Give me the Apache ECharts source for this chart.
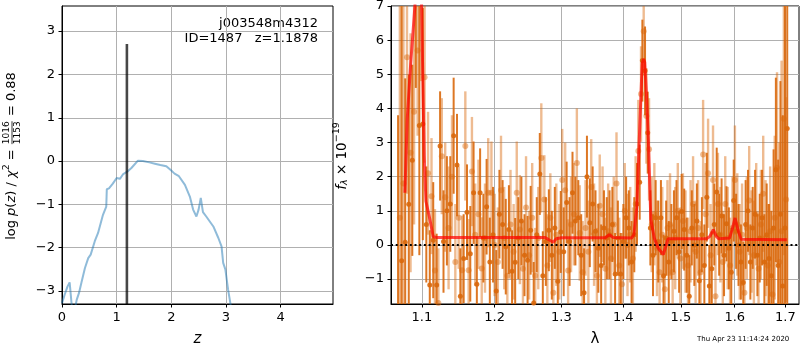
<!DOCTYPE html>
<html><head><meta charset="utf-8">
<script src="https://cdn.jsdelivr.net/npm/echarts@6/dist/echarts.min.js"></script>
<style>html,body{margin:0;padding:0;background:#fff}#c{width:800px;height:350px}</style>
</head><body><div id="c"></div>
<script>
// ---- Left panel: redshift probability ----
const zGrid = [0, 0.05, 0.10, 0.14, 0.16, 0.19, 0.23, 0.27, 0.31, 0.355, 0.42, 0.48, 0.525, 0.60, 0.66, 0.75, 0.81, 0.82, 0.86, 0.93, 1.00, 1.06, 1.12, 1.20, 1.27, 1.39, 1.48, 1.60, 1.70, 1.80, 1.91, 2.00, 2.06, 2.14, 2.25, 2.34, 2.40, 2.46, 2.50, 2.54, 2.58, 2.64, 2.77, 2.86, 2.92, 2.95, 2.99, 3.04, 3.08, 3.12];
const logPz = [-3.28, -3.08, -2.90, -2.80, -2.82, -3.50, -3.45, -3.20, -3.05, -2.81, -2.47, -2.24, -2.16, -1.85, -1.66, -1.24, -1.05, -0.65, -0.63, -0.52, -0.39, -0.41, -0.30, -0.24, -0.16, 0.01, 0.00, -0.03, -0.06, -0.09, -0.12, -0.22, -0.29, -0.35, -0.55, -0.82, -1.12, -1.28, -1.12, -0.85, -1.18, -1.28, -1.51, -1.77, -1.97, -2.35, -2.50, -2.97, -3.27, -3.60];
const zBest = 1.1878;
const zBestTop = 2.7;
const zRange = [0, 4.96];
const zTicks = [0, 1, 2, 3, 4];
const pzRange = [-3.3, 3.58];
const pzTicks = [-3, -2, -1, 0, 1, 2, 3];

// ---- Right panel: 1D spectrum ----
const lamRange = [1.06, 1.728];
const fluxRange = [-1.73, 7];
const lamTicks = [1.1, 1.2, 1.3, 1.4, 1.5, 1.6, 1.7];
const fluxTicks = [-1, 0, 1, 2, 3, 4, 5, 6, 7];
// [wavelength, flux, error]  (dark points)
const specA = [
[1.0690,-2.10,5.90],[1.0736,-0.46,8.00],[1.0782,0.08,4.80],[1.0828,1.19,3.80],[1.0874,2.48,2.80],[1.0920,7.60,3.00],[1.0966,3.50,3.80],[1.1012,3.54,3.40],
[1.1058,0.60,1.70],[1.1104,-1.17,1.60],[1.1150,0.14,1.70],[1.1196,-1.17,1.50],[1.1242,2.90,1.60],[1.1288,0.10,1.50],[1.1334,1.00,1.60],[1.1380,1.20,1.40],
[1.1426,3.20,1.70],[1.1472,2.34,1.50],[1.1518,-1.50,1.40],[1.1564,-0.40,1.30],[1.1610,0.96,1.40],[1.1656,-0.26,1.40],[1.1702,1.53,1.50],[1.1748,-1.15,1.40],
[1.1794,1.53,1.30],[1.1840,0.20,1.30],[1.1886,1.12,1.40],[1.1932,-0.50,1.30],[1.1978,0.30,1.40],[1.2024,-1.35,1.20],[1.2070,0.90,1.30],[1.2116,0.60,1.30],
[1.2162,-0.05,1.40],[1.2208,0.45,1.30],[1.2254,-0.77,1.20],[1.2300,-0.51,1.30],[1.2346,0.20,1.20],[1.2392,0.70,1.30],[1.2438,-0.30,1.20],[1.2484,-0.45,1.30],
[1.2530,0.43,1.30],[1.2576,-1.70,1.20],[1.2622,0.30,1.10],[1.2668,2.08,1.20],[1.2714,-0.90,1.30],[1.2760,0.10,1.30],[1.2806,0.43,1.20],[1.2852,-0.30,1.30],
[1.2898,0.50,1.20],[1.2944,-1.06,1.30],[1.2990,0.38,1.20],[1.3036,-0.20,1.30],[1.3082,1.24,1.20],[1.3128,0.10,1.30],[1.3174,1.53,1.20],[1.3220,0.70,1.30],
[1.3266,0.80,1.10],[1.3312,-0.30,1.20],[1.3358,-1.40,1.30],[1.3404,2.00,1.20],[1.3450,0.65,1.30],[1.3496,1.20,1.10],[1.3542,0.40,1.20],[1.3588,-0.10,1.30],
[1.3634,-0.60,1.20],[1.3680,0.50,1.10],[1.3726,0.20,1.20],[1.3772,0.30,1.30],[1.3818,0.60,1.10],[1.3864,-0.85,1.20],[1.3910,0.20,1.10],[1.3956,-0.85,1.20],
[1.4002,0.10,1.10],[1.4048,0.80,1.20],[1.4094,0.50,1.10],[1.4140,-0.50,1.20],[1.4186,0.30,1.10],[1.4232,1.20,1.20],[1.4278,1.84,1.10],[1.4324,5.40,1.20],
[1.4370,5.10,1.30],[1.4416,3.29,1.20],[1.4462,0.50,1.10],[1.4508,-0.30,1.20],[1.4554,0.80,1.10],[1.4600,0.10,1.20],[1.4646,0.80,1.10],[1.4692,-0.90,1.20],
[1.4738,0.20,1.10],[1.4784,-0.50,1.20],[1.4830,0.10,1.10],[1.4876,0.40,1.20],[1.4922,0.80,1.10],[1.4968,-0.20,1.20],[1.5014,0.98,1.10],[1.5060,0.45,1.20],
[1.5106,-0.30,1.10],[1.5152,-1.50,1.20],[1.5198,0.50,1.10],[1.5244,0.00,1.20],[1.5290,0.70,1.10],[1.5336,-1.05,1.20],[1.5382,0.30,1.10],[1.5428,-0.60,1.20],
[1.5474,1.40,1.30],[1.5520,-1.20,1.20],[1.5566,-0.70,1.10],[1.5612,0.60,1.20],[1.5658,1.55,1.30],[1.5704,0.30,1.20],[1.5750,0.85,1.10],[1.5796,-0.30,1.20],
[1.5842,0.62,1.10],[1.5888,-0.10,1.20],[1.5934,-0.80,1.30],[1.5980,1.30,1.20],[1.6026,0.40,1.10],[1.6072,0.00,1.20],[1.6118,-0.50,1.10],[1.6164,-1.10,1.20],
[1.6210,0.60,1.30],[1.6256,1.00,1.20],[1.6302,-0.50,1.10],[1.6348,0.50,1.20],[1.6394,0.90,1.30],[1.6440,-0.30,1.20],[1.6486,0.20,1.30],[1.6532,0.80,1.40],
[1.6578,-0.50,1.40],[1.6624,0.30,1.50],[1.6670,-0.40,1.60],[1.6716,-0.90,1.90],[1.6762,0.50,2.30],[1.6808,2.20,2.70],[1.6854,-0.60,3.10],[1.6900,0.90,3.90],
[1.6946,-1.20,5.00],[1.6992,0.50,9.00],[1.7038,3.41,8.00]
];
// [wavelength, flux, error]  (light points)
const specB = [
[1.0713,0.80,6.50],[1.0759,1.80,5.20],[1.0805,5.50,4.00],[1.0851,2.70,3.50],[1.0897,3.90,3.30],[1.0943,5.70,2.50],[1.0989,7.80,3.00],[1.1035,4.91,2.50],
[1.1081,2.10,1.80],[1.1127,1.43,1.70],[1.1173,-0.75,1.80],[1.1219,-1.70,1.60],[1.1265,2.60,1.70],[1.1311,1.40,1.60],[1.1357,0.50,1.80],[1.1403,2.00,1.80],
[1.1449,-0.50,1.70],[1.1495,0.80,1.50],[1.1541,-0.74,1.60],[1.1587,2.90,1.60],[1.1633,-0.74,1.50],[1.1679,2.15,1.60],[1.1725,0.30,1.50],[1.1771,0.90,1.60],
[1.1817,-0.69,1.50],[1.1863,0.20,1.60],[1.1909,1.53,1.60],[1.1955,1.53,1.50],[1.2001,0.00,1.50],[1.2047,-0.50,1.60],[1.2093,1.60,1.60],[1.2139,0.20,1.50],
[1.2185,-0.90,1.40],[1.2231,0.60,1.60],[1.2277,-0.20,1.40],[1.2323,1.53,1.50],[1.2369,0.45,1.60],[1.2415,-0.70,1.40],[1.2461,1.10,1.50],[1.2507,-0.30,1.30],
[1.2553,0.80,1.60],[1.2599,-0.90,1.40],[1.2645,0.20,1.50],[1.2691,2.55,1.60],[1.2737,1.33,1.30],[1.2783,-0.60,1.50],[1.2829,0.80,1.30],[1.2875,-1.40,1.40],
[1.2921,0.30,1.50],[1.2967,-0.20,1.40],[1.3013,1.90,1.50],[1.3059,1.60,1.40],[1.3105,-0.75,1.50],[1.3151,0.60,1.40],[1.3197,0.90,1.50],[1.3243,2.40,1.60],
[1.3289,0.35,1.40],[1.3335,-0.80,1.50],[1.3381,0.50,1.40],[1.3427,-0.20,1.50],[1.3473,1.70,1.40],[1.3519,0.30,1.50],[1.3565,-0.90,1.40],[1.3611,1.15,1.50],
[1.3657,0.90,1.40],[1.3703,-0.70,1.50],[1.3749,0.40,1.40],[1.3795,-0.40,1.50],[1.3841,0.60,1.40],[1.3887,1.80,1.50],[1.3933,-0.60,1.40],[1.3979,-1.15,1.50],
[1.4025,1.00,1.40],[1.4071,0.00,1.50],[1.4117,0.30,1.40],[1.4163,-0.40,1.50],[1.4209,1.20,1.40],[1.4255,2.75,1.50],[1.4301,4.42,1.40],[1.4347,6.26,1.30],
[1.4393,3.78,1.40],[1.4439,2.80,1.50],[1.4485,0.60,1.40],[1.4531,0.90,1.50],[1.4577,-0.10,1.40],[1.4623,-0.80,1.50],[1.4669,0.30,1.40],[1.4715,-1.30,1.50],
[1.4761,0.50,1.40],[1.4807,0.60,1.50],[1.4853,-0.80,1.40],[1.4899,0.20,1.50],[1.4945,1.00,1.40],[1.4991,-0.40,1.50],[1.5037,0.70,1.40],[1.5083,0.10,1.50],
[1.5129,-0.60,1.40],[1.5175,0.40,1.50],[1.5221,1.20,1.40],[1.5267,-0.20,1.50],[1.5313,0.50,1.40],[1.5359,-0.80,1.50],[1.5405,2.65,1.60],[1.5451,0.90,1.50],
[1.5497,2.10,1.60],[1.5543,-0.30,1.50],[1.5589,1.90,1.60],[1.5635,-1.50,1.50],[1.5681,1.20,1.50],[1.5727,0.30,1.40],[1.5773,-0.50,1.50],[1.5819,1.20,1.40],
[1.5865,0.20,1.50],[1.5911,-0.60,1.40],[1.5957,0.50,1.50],[1.6003,1.90,1.60],[1.6049,0.60,1.50],[1.6095,-0.20,1.40],[1.6141,0.30,1.50],[1.6187,-1.40,1.40],
[1.6233,0.50,1.50],[1.6279,1.30,1.60],[1.6325,0.10,1.50],[1.6371,-0.30,1.60],[1.6417,0.90,1.50],[1.6463,-0.70,1.60],[1.6509,0.60,1.60],[1.6555,1.50,1.70],
[1.6601,0.20,1.70],[1.6647,-0.60,1.80],[1.6693,0.40,1.90],[1.6739,-1.45,2.00],[1.6785,0.80,2.40],[1.6831,2.26,2.80],[1.6877,-0.50,3.50],[1.6923,0.40,5.00],
[1.6969,3.70,4.00],[1.7015,1.33,3.00]
];
const modelWave = [1.0778, 1.0808, 1.0851, 1.0908, 1.0940, 1.0975, 1.0996, 1.1009, 1.1030, 1.1053, 1.1106, 1.1150, 1.1200, 1.2750, 1.2800, 1.2874, 1.2920, 1.3000, 1.3700, 1.3768, 1.3830, 1.4140, 1.4180, 1.4230, 1.4280, 1.4320, 1.4345, 1.4365, 1.4395, 1.4427, 1.4470, 1.4530, 1.4600, 1.4687, 1.4740, 1.4770, 1.5470, 1.5530, 1.5594, 1.5650, 1.5700, 1.5900, 1.5950, 1.6006, 1.6060, 1.6120, 1.7030];
const modelFlux = [1.53, 3.69, 5.25, 7.00, 8.50, 8.50, 7.00, 5.25, 2.60, 1.28, 0.74, 0.24, 0.22, 0.22, 0.16, 0.08, 0.18, 0.21, 0.21, 0.30, 0.22, 0.20, 0.30, 1.14, 3.50, 5.30, 5.45, 5.35, 4.40, 3.10, 0.74, 0.20, -0.10, -0.28, 0.00, 0.18, 0.18, 0.25, 0.45, 0.25, 0.18, 0.20, 0.45, 0.79, 0.45, 0.17, 0.15];

const objName = 'j003548m4312';
const objInfo = 'ID=1487   z=1.1878';
const stamp = 'Thu Apr 23 11:14:24 2020';

// ---- build ----
const FONT = 'DejaVu Sans';
const DARK = '#d9680c';
const minus = v => (v < 0 ? '\u2212' + Math.abs(v) : String(v));

const mctx = document.createElement('canvas').getContext('2d');
function tw(t, s, it) { mctx.font = (it ? 'italic ' : '') + s + 'px "' + FONT + '"'; return mctx.measureText(t).width; }
function fontStr(s, it) { return (it ? 'italic ' : '') + s + 'px "' + FONT + '"'; }
function txt(t, x, y, s, it, align) {
  return { type: 'text', style: { text: t, x: x, y: y, font: fontStr(s, it), fill: '#000',
    align: align || 'left', textAlign: align || 'left', verticalAlign: 'middle', textVerticalAlign: 'middle' } };
}
function rotLabel(cx, cy, pieces) {
  let w = 0;
  const widths = pieces.map(p => {
    const ww = p.frac ? Math.max(tw(p.frac[0], p.s), tw(p.frac[1], p.s)) + 2 : tw(p.t, p.s, p.it);
    w += ww; return ww;
  });
  let x = -w / 2;
  const children = [];
  pieces.forEach((p, i) => {
    const ww = widths[i];
    if (p.frac) {
      children.push(txt(p.frac[0], x + ww / 2, -p.s * 0.62, p.s, false, 'center'));
      children.push(txt(p.frac[1], x + ww / 2, p.s * 0.62, p.s, false, 'center'));
      children.push({ type: 'line', shape: { x1: x + 1, y1: 0, x2: x + ww - 1, y2: 0 }, style: { stroke: '#000', lineWidth: 0.8 } });
    } else {
      children.push(txt(p.t, x, p.dy || 0, p.s, p.it, 'left'));
    }
    x += ww;
  });
  return { type: 'group', x: cx, y: cy, rotation: Math.PI / 2, children: children };
}

function errRender(color, width, opacity) {
  return function (params, api) {
    const x = api.value(0), y = api.value(1), e = api.value(2);
    const p1 = api.coord([x, y - e]), p2 = api.coord([x, y + e]);
    const cs = params.coordSys;
    const top = cs.y, bot = cs.y + cs.height;
    const c = v => Math.min(Math.max(v, top), bot);
    return { type: 'line', shape: { x1: p1[0], y1: c(p1[1]), x2: p2[0], y2: c(p2[1]) },
      style: { stroke: color, lineWidth: width, opacity: opacity } };
  };
}

const axisCommon = {
  axisLine: { show: true, onZero: false, lineStyle: { color: '#000', width: 1 } },
  axisTick: { show: true, inside: false, length: 3.5, lineStyle: { color: '#000', width: 1 } },
  axisLabel: { color: '#000', fontSize: 13, fontFamily: FONT, margin: 7 },
  splitLine: { show: true, lineStyle: { color: '#b0b0b0', width: 1 } },
  nameTextStyle: { color: '#000', fontSize: 15, fontFamily: FONT }
};
function ax(extra) {
  const o = JSON.parse(JSON.stringify(axisCommon));
  for (const k in extra) {
    if (typeof extra[k] === 'object' && !Array.isArray(extra[k]) && o[k]) Object.assign(o[k], extra[k]);
    else o[k] = extra[k];
  }
  return o;
}

const chart = echarts.init(document.getElementById('c'), null, { renderer: 'canvas' });
chart.setOption({
  animation: false,
  backgroundColor: '#fff',
  grid: [
    { left: 62, top: 6, width: 271, height: 298, show: true, borderColor: '#000', borderWidth: 1, backgroundColor: 'transparent', containLabel: false, outerBoundsMode: 'none' },
    { left: 391, top: 6, width: 408, height: 298, show: true, borderColor: '#000', borderWidth: 1, backgroundColor: 'transparent', containLabel: false, outerBoundsMode: 'none' }
  ],
  xAxis: [
    ax({ gridIndex: 0, type: 'value', min: zRange[0], max: zRange[1],
      name: 'z', nameLocation: 'middle', nameGap: 28, nameTextStyle: { fontStyle: 'italic' },
      axisLabel: { customValues: zTicks, formatter: v => minus(v) },
      axisTick: { customValues: zTicks } }),
    ax({ gridIndex: 1, type: 'log', logBase: 10, min: lamRange[0], max: lamRange[1],
      name: 'λ', nameLocation: 'middle', nameGap: 28,
      axisLabel: { customValues: lamTicks, formatter: v => Number(v).toFixed(1) },
      axisTick: { customValues: lamTicks } })
  ],
  yAxis: [
    ax({ gridIndex: 0, type: 'value', min: pzRange[0], max: pzRange[1],
      axisLabel: { customValues: pzTicks, formatter: v => minus(v) },
      axisTick: { customValues: pzTicks } }),
    ax({ gridIndex: 1, type: 'value', min: fluxRange[0], max: fluxRange[1],
      axisLabel: { customValues: fluxTicks, formatter: v => minus(v) },
      axisTick: { customValues: fluxTicks } })
  ],
  series: [
    { type: 'line', xAxisIndex: 0, yAxisIndex: 0, data: zGrid.map((z, i) => [z, logPz[i]]),
      showSymbol: false, symbol: 'none', clip: true,
      lineStyle: { color: '#1f77b4', opacity: 0.5, width: 2 }, z: 3 },
    { type: 'line', xAxisIndex: 0, yAxisIndex: 0, data: [[zBest, pzRange[0]], [zBest, zBestTop]],
      showSymbol: false, symbol: 'none', clip: true,
      lineStyle: { color: '#000', opacity: 0.72, width: 2.6 }, z: 4 },
    { type: 'custom', xAxisIndex: 1, yAxisIndex: 1, data: specB, encode: { x: 0, y: 1 },
      renderItem: errRender(DARK, 2.4, 0.45), clip: true, z: 2 },
    { type: 'scatter', xAxisIndex: 1, yAxisIndex: 1, data: specB, encode: { x: 0, y: 1 },
      symbol: 'circle', symbolSize: 6, itemStyle: { color: DARK, opacity: 0.45 }, clip: true, z: 2 },
    { type: 'custom', xAxisIndex: 1, yAxisIndex: 1, data: specA, encode: { x: 0, y: 1 },
      renderItem: errRender(DARK, 2, 0.9), clip: true, z: 3 },
    { type: 'scatter', xAxisIndex: 1, yAxisIndex: 1, data: specA, encode: { x: 0, y: 1 },
      symbol: 'circle', symbolSize: 5, itemStyle: { color: DARK, opacity: 0.9 }, clip: true, z: 3 },
    { type: 'line', xAxisIndex: 1, yAxisIndex: 1, data: modelWave.map((w, i) => [w, modelFlux[i]]),
      showSymbol: false, symbol: 'none', clip: true,
      lineStyle: { color: '#ff0000', opacity: 0.7, width: 3 }, z: 5,
      markLine: { silent: true, symbol: ['none', 'none'], label: { show: false },
        lineStyle: { color: '#000', type: [2, 2.7], width: 2, opacity: 1 },
        data: [{ yAxis: 0 }] } }
  ],
  graphic: [
    txt(objName, 318, 24, 13, false, 'right'),
    txt(objInfo, 318, 39, 13, false, 'right'),
    txt(stamp, 697, 339, 7, false, 'left'),
    rotLabel(12, 156, [
      { t: 'log ', s: 13 }, { t: 'p', s: 13, it: true }, { t: '(', s: 13 }, { t: 'z', s: 13, it: true },
      { t: ') / ', s: 13 }, { t: 'χ', s: 13, it: true }, { t: '2', s: 9.5, dy: -5 }, { t: ' = ', s: 13 },
      { frac: ['1016', '1153'], s: 9 }, { t: ' = 0.88', s: 13 }
    ]),
    rotLabel(342, 156, [
      { t: 'f', s: 13.5, it: true }, { t: 'λ', s: 9.5, it: true, dy: 3 }, { t: ' × 10', s: 13.5 },
      { t: '\u221219', s: 9.5, dy: -5 }
    ])
  ]
});
</script>
</body></html>
